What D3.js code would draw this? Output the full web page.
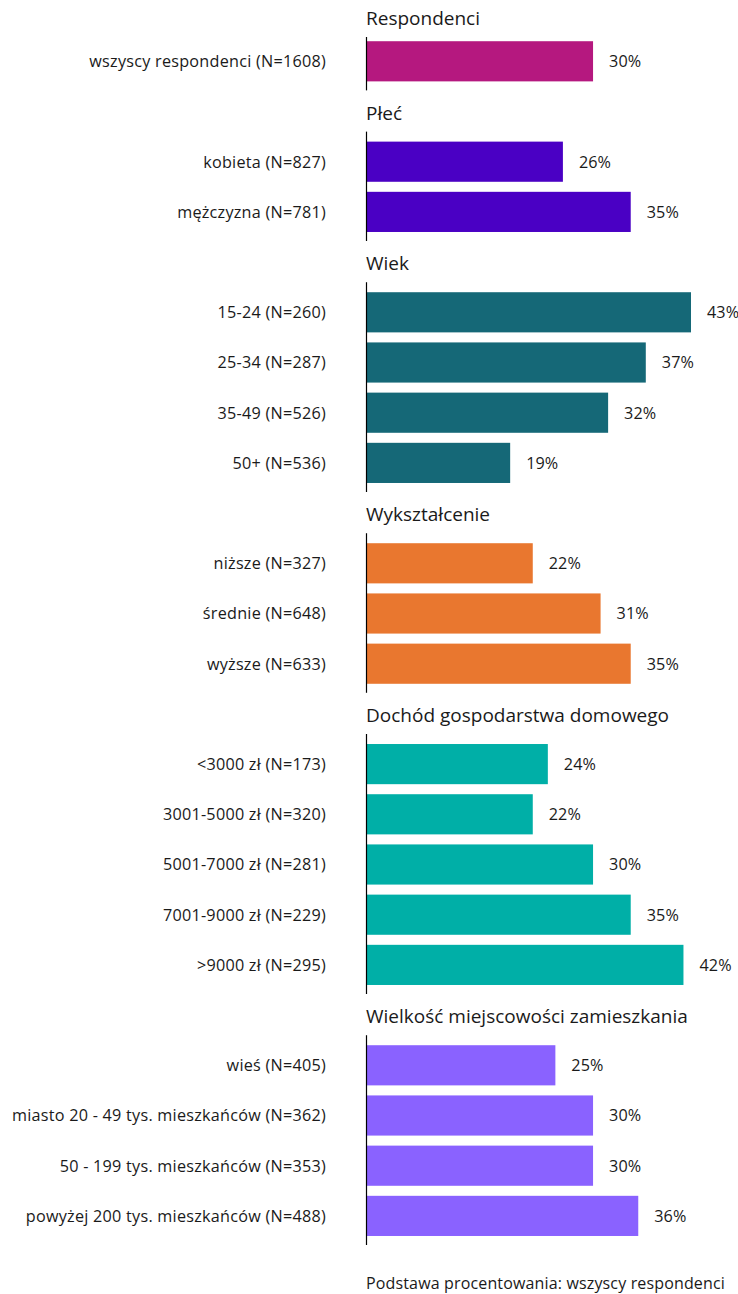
<!DOCTYPE html>
<html><head><meta charset="utf-8">
<script src="https://cdn.jsdelivr.net/npm/d3@7"></script>
<style>html,body{margin:0;padding:0;background:#fff;}svg{display:block;}</style>
</head><body>
<script>
const groupTitles = ["Respondenci","Płeć","Wiek","Wykształcenie","Dochód gospodarstwa domowego","Wielkość miejscowości zamieszkania"];
const groupColors = ["#B5187F","#4A00C4","#156877","#E9772F","#00AFA7","#8A62FF"];
const groupLabels = [
  ["wszyscy respondenci (N=1608)"],
  ["kobieta (N=827)","mężczyzna (N=781)"],
  ["15-24 (N=260)","25-34 (N=287)","35-49 (N=526)","50+ (N=536)"],
  ["niższe (N=327)","średnie (N=648)","wyższe (N=633)"],
  ["<3000 zł (N=173)","3001-5000 zł (N=320)","5001-7000 zł (N=281)","7001-9000 zł (N=229)",">9000 zł (N=295)"],
  ["wieś (N=405)","miasto 20 - 49 tys. mieszkańców (N=362)","50 - 199 tys. mieszkańców (N=353)","powyżej 200 tys. mieszkańców (N=488)"]
];
const groupValues = [
  [30],
  [26,35],
  [43,37,32,19],
  [22,31,35],
  [24,22,30,35,42],
  [25,30,30,36]
];
const footnote = "Podstawa procentowania: wszyscy respondenci";

const W = 738, H = 1294;
const FONT = "'Open Sans', 'Noto Sans', sans-serif";
const svg = d3.select("body").append("svg").attr("width", W).attr("height", H)
  .style("font-family", FONT);

const slots = [];
groupTitles.forEach((t, gi) => {
  slots.push({type:"header", id:"h"+gi, g:gi, text:t});
  groupLabels[gi].forEach((l, i) => slots.push({type:"row", id:"r"+gi+"_"+i, g:gi, label:l, value:groupValues[gi][i]}));
});

const y = d3.scaleBand().domain(slots.map(s => s.id)).range([-14, 1241]).paddingInner(0.2).paddingOuter(0.1);
const x = d3.scaleLinear().domain([0, 43]).range([367, 691]);

const rows = slots.filter(s => s.type === "row");
svg.append("g").selectAll("rect").data(rows).join("rect")
  .attr("x", x(0)).attr("y", d => y(d.id))
  .attr("width", d => x(d.value) - x(0)).attr("height", y.bandwidth())
  .attr("fill", d => groupColors[d.g]);

svg.append("g").selectAll("text").data(rows).join("text")
  .attr("x", 326).attr("y", d => y(d.id) + y.bandwidth()/2).attr("dy", "0.36em")
  .attr("text-anchor", "end").attr("font-size", 16.2).attr("fill", "#1a1a1a")
  .attr("letter-spacing", 0.25)
  .text(d => d.label);

svg.append("g").selectAll("text").data(rows).join("text")
  .attr("x", d => x(d.value) + 16).attr("y", d => y(d.id) + y.bandwidth()/2).attr("dy", "0.36em")
  .attr("font-size", 16.2).attr("fill", "#1a1a1a").attr("letter-spacing", 0.1)
  .text(d => d.value + "%");

groupTitles.forEach((t, gi) => {
  const gRows = rows.filter(r => r.g === gi);
  const top = y(gRows[0].id), bottom = y(gRows[gRows.length-1].id) + y.bandwidth();
  const base = Math.max(top - 22, 25);
  svg.append("text").attr("x", 366).attr("y", base).attr("font-size", 19).attr("fill", "#1a1a1a")
    .text(t);
  svg.append("line").attr("x1", 366.5).attr("x2", 366.5)
    .attr("y1", Math.max(top - 10, base + 12)).attr("y2", bottom + 9)
    .attr("stroke", "#000").attr("stroke-width", 1.2);
});

svg.append("text").attr("x", 366).attr("y", 1289).attr("font-size", 16).attr("fill", "#1a1a1a")
  .attr("letter-spacing", 0.15).text(footnote);
</script>
</body></html>
